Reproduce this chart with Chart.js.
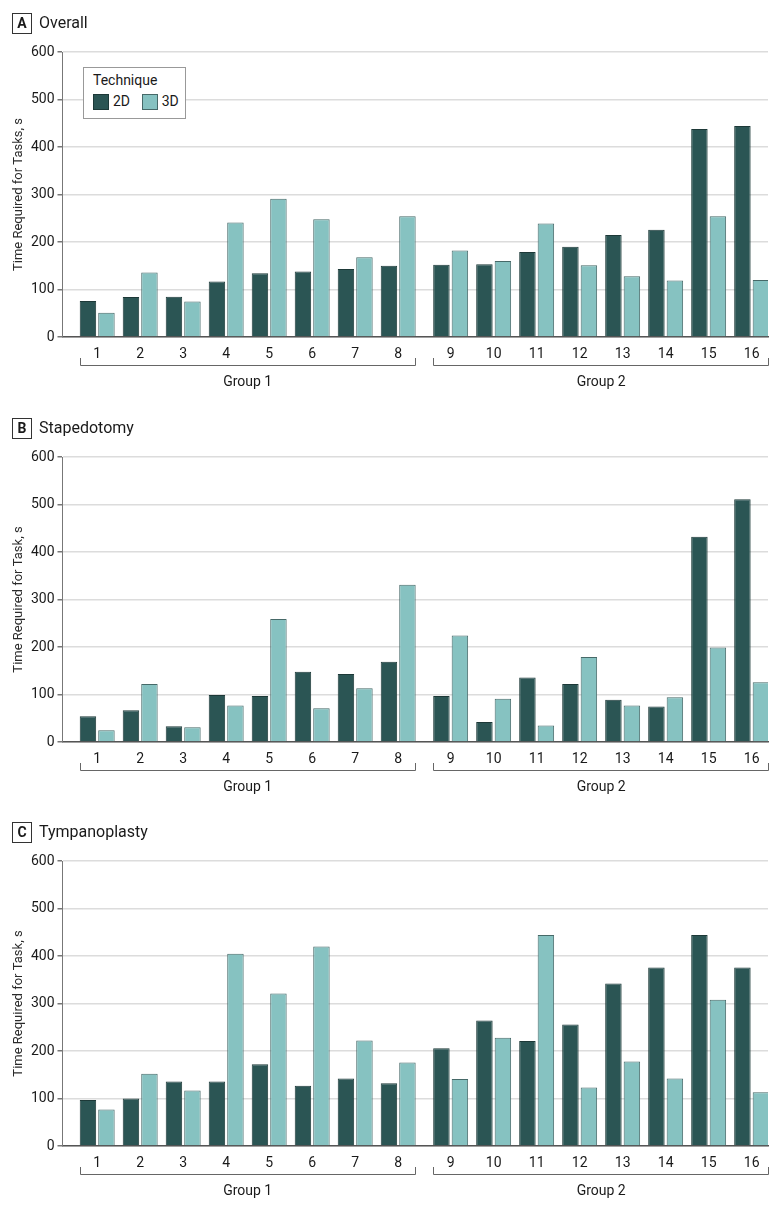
<!DOCTYPE html>
<html>
<head>
<meta charset="utf-8">
<script src="https://cdn.jsdelivr.net/npm/chart.js@4.4.0/dist/chart.umd.min.js"></script>
<style>
  body { margin: 0; background: #fff; font-family: Roboto, sans-serif; color: #1a1a1a; }
  .panel { position: absolute; left: 0; width: 780px; height: 405px; }
  .tag { position: absolute; left: 12px; top: 13px; width: 18px; height: 19px; border: 1px solid #333;
         font-weight: bold; font-size: 14px; line-height: 19px; text-align: center; }
  .ptitle { position: absolute; left: 39px; top: 12px; font-size: 16px; line-height: 22px; }
  .legend { position: absolute; left: 83px; top: 67px; width: 101px; height: 50px; border: 1px solid #999; background: #fff; }
  .legend .lt { position: absolute; left: 9px; top: 4px; font-size: 14px; }
  .legend .sw { position: absolute; top: 26px; width: 14px; height: 14px; }
  .legend .ll { position: absolute; top: 25px; font-size: 14px; }
</style>
</head>
<body>

<div class="panel" id="pA" style="top:0px">
  <div class="tag">A</div><div class="ptitle">Overall</div>
  <canvas id="chartA" width="780" height="405"></canvas>
</div>
<div class="panel" id="pB" style="top:405px">
  <div class="tag">B</div><div class="ptitle">Stapedotomy</div>
  <canvas id="chartB" width="780" height="405"></canvas>
</div>
<div class="panel" id="pC" style="top:809px">
  <div class="tag">C</div><div class="ptitle">Tympanoplasty</div>
  <canvas id="chartC" width="780" height="405"></canvas>
</div>

<script>
// tasks / participants on the x axis
let tasks = ["1", "2", "3", "4", "5", "6", "7", "8", "9", "10", "11", "12", "13", "14", "15", "16"];
let groupNames = ["Group 1", "Group 2"];
let groupStart = [0, 8];
let groupEnd = [7, 15];
let yTicks = [0, 100, 200, 300, 400, 500, 600];

// A Overall
let overall2D = [76, 84, 85, 117, 134, 138, 143, 150, 152, 153, 179, 190, 215, 226, 438, 444];
let overall3D = [51, 136, 75, 241, 291, 248, 168, 254, 182, 160, 239, 151, 128, 119, 254, 120];
// B Stapedotomy
let stap2D = [54, 67, 33, 99, 97, 148, 143, 169, 97, 42, 136, 122, 89, 75, 432, 511];
let stap3D = [25, 122, 31, 77, 259, 71, 113, 331, 224, 91, 35, 179, 77, 94, 199, 126];
// C Tympanoplasty
let tymp2D = [97, 100, 136, 136, 172, 127, 142, 132, 206, 264, 221, 256, 342, 376, 444, 376];
let tymp3D = [77, 152, 117, 405, 321, 420, 222, 176, 141, 228, 444, 123, 178, 142, 308, 113];

let col2D = "#2b5554";
let col3D = "#86c2c1";
let groupGap = 0.22;   // extra space between group 1 and group 2, in task widths

// x position of each task on the linear axis
let xPos = tasks.map((t, i) => i + 1 + (i >= 8 ? groupGap : 0));

Chart.defaults.font.family = "Roboto, sans-serif";
Chart.defaults.font.size = 14;
Chart.defaults.color = "#1a1a1a";

let bracketPlugin = {
  id: "brackets",
  afterDraw(chart) {
    const ctx = chart.ctx;
    const m0 = chart.getDatasetMeta(0).data;
    const m1 = chart.getDatasetMeta(1).data;
    const y = chart.scales.x2.top + 4;
    ctx.save();
    ctx.strokeStyle = "#666";
    ctx.lineWidth = 1;
    groupStart.forEach((s, g) => {
      const e = groupEnd[g];
      const x0 = Math.round(m0[s].x - m0[s].width / 2) + 0.5;
      const x1 = Math.round(m1[e].x + m1[e].width / 2) - 0.5;
      ctx.beginPath();
      ctx.moveTo(x0, y - 7);
      ctx.lineTo(x0, y + 0.5);
      ctx.lineTo(x1, y + 0.5);
      ctx.lineTo(x1, y - 7);
      ctx.stroke();
    });
    ctx.restore();
  }
};

function makeChart(id, yTitle, d2, d3) {
  const ctx = document.getElementById(id).getContext("2d");
  return new Chart(ctx, {
    type: "bar",
    data: {
      datasets: [
        {
          label: "2D",
          data: d2.map((v, i) => ({ x: xPos[i], y: v })),
          backgroundColor: col2D,
          borderColor: "#1d3938",
          borderWidth: 1,
          categoryPercentage: 0.86,
          barPercentage: 0.89
        },
        {
          label: "3D",
          data: d3.map((v, i) => ({ x: xPos[i], y: v })),
          backgroundColor: col3D,
          borderColor: "#466968",
          borderWidth: 1,
          categoryPercentage: 0.86,
          barPercentage: 0.89
        }
      ]
    },
    options: {
      responsive: false,
      animation: false,
      devicePixelRatio: 1,
      layout: { padding: { top: 52, right: 12, left: 0, bottom: 10 } },
      plugins: { legend: { display: false }, tooltip: { enabled: false } },
      scales: {
        x: {
          type: "linear",
          offset: false,
          min: 0.193,
          max: 16.6,
          grid: { display: false },
          border: { display: true, color: "#555", width: 1.5 },
          afterBuildTicks: (scale) => { scale.ticks = xPos.map((v) => ({ value: v })); },
          afterFit: (scale) => { scale.height = 24; },
          ticks: {
            autoSkip: false,
            maxRotation: 0,
            padding: 1,
            callback: (value, index) => tasks[index]
          }
        },
        x2: {
          type: "linear",
          position: "bottom",
          offset: false,
          min: 0.193,
          max: 16.6,
          grid: { display: false },
          border: { display: false },
          afterBuildTicks: (scale) => {
            scale.ticks = groupStart.map((s, g) => ({ value: (xPos[s] + xPos[groupEnd[g]]) / 2 }));
          },
          afterFit: (scale) => { scale.height = 34; },
          ticks: {
            autoSkip: false,
            maxRotation: 0,
            padding: 5,
            callback: (value, index) => groupNames[index]
          }
        },
        y: {
          min: 0,
          max: 600,
          afterBuildTicks: (scale) => { scale.ticks = yTicks.map((v) => ({ value: v })); },
          afterFit: (scale) => { scale.width = 62.5; },
          grid: { color: "#dcdcdc", lineWidth: 1.5, tickColor: "#777", tickLength: 5, drawTicks: true },
          border: { display: true, color: "#777", width: 1 },
          ticks: { padding: 3 },
          title: {
            display: true,
            text: yTitle,
            color: "#2a2a2a",
            font: { size: 13 },
            padding: { top: 11, bottom: 0 }
          }
        }
      }
    },
    plugins: [bracketPlugin]
  });
}

let chartA = makeChart("chartA", "Time Required for Tasks, s", overall2D, overall3D);
let chartB = makeChart("chartB", "Time Required for Task, s", stap2D, stap3D);
let chartC = makeChart("chartC", "Time Required for Task, s", tymp2D, tymp3D);

// legend box inside panel A, built from the chart's datasets
(function () {
  const box = document.createElement("div");
  box.className = "legend";
  box.innerHTML = '<div class="lt">Technique</div>';
  const swLeft = [9, 57.7];
  chartA.data.datasets.forEach((ds, i) => {
    const sw = document.createElement("div");
    sw.className = "sw";
    sw.style.left = swLeft[i] + "px";
    sw.style.background = ds.backgroundColor;
    sw.style.border = "1px solid " + ds.borderColor;
    box.appendChild(sw);
    const lab = document.createElement("div");
    lab.className = "ll";
    lab.style.left = (swLeft[i] + 20) + "px";
    lab.textContent = ds.label;
    box.appendChild(lab);
  });
  document.getElementById("pA").appendChild(box);
})();
</script>
</body>
</html>
